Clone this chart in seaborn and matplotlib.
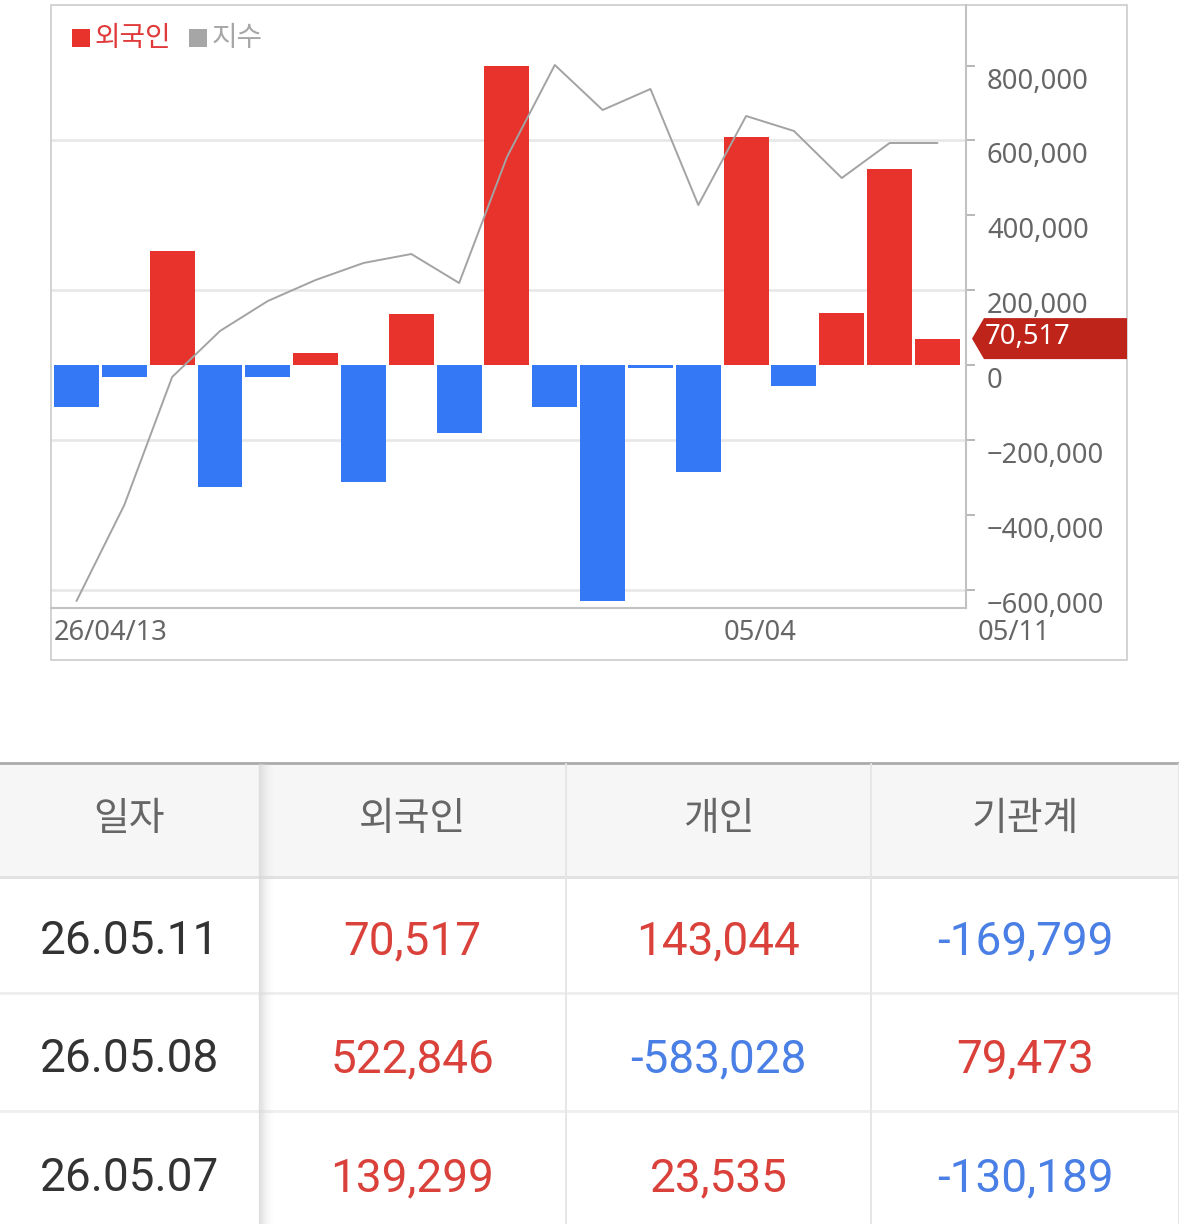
import numpy as np
import pandas as pd
import matplotlib
matplotlib.use("Agg")
import matplotlib.pyplot as plt
import seaborn as sns
from matplotlib.patches import Rectangle, Polygon
from matplotlib.transforms import blended_transform_factory

# ---------------- data ----------------
dates = ["04/13", "04/14", "04/15", "04/16", "04/17", "04/20", "04/21", "04/22", "04/23", "04/24",
         "04/27", "04/28", "04/29", "04/30", "05/04", "05/06", "05/07", "05/08", "05/11"]
foreign = [-111000, -31000, 304000, -327000, -32000, 32000, -312000, 136000, -183000, 800000,
           -111000, -631000, -7000, -287000, 608000, -56000, 139299, 522846, 70517]
index_vals = [3000, 3096, 3224, 3270, 3300, 3321, 3338, 3347, 3318, 3444,
              3536, 3491, 3512, 3396, 3485, 3470, 3423, 3458, 3458]
ytick_vals = [-600000, -400000, -200000, 0, 200000, 400000, 600000, 800000]
grid_vals = [-600000, -200000, 200000, 600000]
xlabel_text = ["26/04/13", "05/04", "05/11"]
xlabel_pos = [-0.47, 13.53, 18.85]
legend_labels = ["외국인", "지수"]

table_header = ["일자", "외국인", "개인", "기관계"]
table_dates = ["26.05.11", "26.05.08", "26.05.07"]
table_foreign = [70517, 522846, 139299]
table_individual = [143044, -583028, 23535]
table_institution = [-169799, 79473, -130189]

# ---------------- style ----------------
W, H = 1179, 1224
RED = "#e8332c"
BLUE = "#3478f6"
GRAY_LINE = "#a3a3a3"
TXT = "#666666"
T_RED = "#d9413a"
T_BLUE = "#4a7fe6"

sns.set_style("white")
plt.rcParams["font.family"] = ["Noto Sans", "Noto Sans CJK KR", "DejaVu Sans"]

fig = plt.figure(figsize=(W / 100, H / 100), dpi=100)
fig.patch.set_facecolor("white")

# main axes (pixel placement)
ax_l, ax_r, ax_t, ax_b = 51, 966, 5, 607.5
ax = fig.add_axes([ax_l / W, 1 - ax_b / H, (ax_r - ax_l) / W, (ax_b - ax_t) / H])

df = pd.DataFrame({"date": dates, "foreign": foreign, "index": index_vals})
df["sign"] = np.where(df["foreign"] >= 0, "pos", "neg")
df["pos"] = np.arange(len(df))

sns.barplot(data=df, x="date", y="foreign", hue="sign", palette={"pos": RED, "neg": BLUE},
            dodge=False, width=0.94, errorbar=None, legend=False, linewidth=0, saturation=1,
            ax=ax, zorder=2)

for g in grid_vals:
    ax.axhline(g, color="#e7e7e7", lw=1.9, zorder=0.5)

# index line on twin axis
ax2 = ax.twinx()
sns.lineplot(data=df, x="pos", y="index", ax=ax2, color=GRAY_LINE, lw=1.4, zorder=3)
ax2.set_ylim(2993.5, 3596)
ax2.set_xlim(-0.533, 18.597)
ax2.set_yticks([])
ax2.set_xlabel("")
ax2.set_ylabel("")
ax2.tick_params(left=False, right=False, labelleft=False, labelright=False)
for s in ax2.spines.values():
    s.set_visible(False)

ax.set_xlim(-0.533, 18.597)
ax.set_ylim(-647900, 961800)
ax.set_xlabel("")
ax.set_ylabel("")
ax.set_xticks([])
ax.set_yticks(ytick_vals)
ax.yaxis.tick_right()
ax.tick_params(axis="y", which="both", right=True, left=False, labelright=False, labelleft=False,
               length=6.5, width=1.4, color="#b8b8b8", direction="out")
for s in ["top", "left"]:
    ax.spines[s].set_visible(False)
for s in ["right", "bottom"]:
    ax.spines[s].set_color("#c2c2c2")
    ax.spines[s].set_linewidth(1.5)

ytrans = blended_transform_factory(ax.transAxes, ax.transData)
for v in ytick_vals:
    lab = f"{v:,}".replace("-", "\u2212")
    ax.annotate(lab, xy=(1, v), xycoords=ytrans, xytext=(21, -16), textcoords="offset pixels",
                ha="left", va="center", fontsize=19.7, color=TXT, annotation_clip=False)

xtrans = blended_transform_factory(ax.transData, ax.transAxes)
for t, p in zip(xlabel_text, xlabel_pos):
    ax.text(p, -26 / (ax_b - ax_t), t, transform=xtrans, ha="left", va="center", fontsize=19.7,
            color=TXT, clip_on=False)

# ---------------- overlay (pixel coords) ----------------
ov = fig.add_axes([0, 0, 1, 1], zorder=5)
ov.set_xlim(0, W)
ov.set_ylim(H, 0)
ov.axis("off")

# outer chart box
ov.add_patch(Rectangle((51, 5), 1127 - 51, 660 - 5, fill=False, ec="#c8c8c8", lw=1.1))

# legend
ov.add_patch(Rectangle((72, 29), 18, 18, color=RED, lw=0))
ov.text(95, 38, legend_labels[0], color="#e03a3a", fontsize=20, va="center", ha="left",
        family=["Noto Sans CJK KR"])
ov.add_patch(Rectangle((189, 29), 18, 18, color="#a6a6a6", lw=0))
ov.text(212, 38, legend_labels[1], color="#a6a6a6", fontsize=20, va="center", ha="left",
        family=["Noto Sans CJK KR"])

# last-value tag
fig.canvas.draw()
yc = H - ax.transData.transform((0, foreign[-1]))[1]
hh = 20.5
ov.add_patch(Polygon([(972, yc), (984, yc - hh), (1127, yc - hh), (1127, yc + hh), (984, yc + hh)],
                     closed=True, color="#be241a", lw=0))
ov.text(985, yc - 2, f"{foreign[-1]:,}", color="white", fontsize=19.7, va="center", ha="left")

# ---------------- table ----------------
col_edges = [0, 259, 566, 871, 1179]
row_edges = [763, 877, 993, 1111, 1229]
ov.add_patch(Rectangle((0, 763), W, 877 - 763, color="#f6f6f6", lw=0, zorder=1))
ov.plot([0, W], [763, 763], color="#ababab", lw=2.0, zorder=3)
ov.plot([0, W], [877, 877], color="#e2e2e2", lw=2.2, zorder=3)
for y in row_edges[2:4]:
    ov.plot([0, W], [y, y], color="#eeeeee", lw=2.0, zorder=3)
for x in col_edges[2:]:
    ov.plot([x, x], [764, H], color="#e6e6e6", lw=1.4, zorder=3)
# shadowed first divider
for k in range(14):
    ov.plot([259 + k, 259 + k], [764, H], color="#d8d8d8", lw=1.0, alpha=0.75 * (1 - k / 14) ** 2,
            zorder=3)

centers = [(col_edges[i] + col_edges[i + 1]) / 2 for i in range(4)]
for c, h in zip(centers, table_header):
    ov.text(c, 819, h, ha="center", va="center", fontsize=28, color=TXT,
            family=["Noto Sans CJK KR"], zorder=4)


def col_of(v):
    return T_RED if v >= 0 else T_BLUE


row_cy = [941, 1059, 1178]
for r in range(3):
    y = row_cy[r]
    ov.text(centers[0], y, table_dates[r], ha="center", va="center", fontsize=33, color="#333333",
            family=["Roboto"], zorder=4)
    for ci, arr in zip([1, 2, 3], [table_foreign, table_individual, table_institution]):
        v = arr[r]
        ov.text(centers[ci], y, f"{v:,}", ha="center", va="center", fontsize=33, color=col_of(v),
                family=["Roboto"], zorder=4)

fig.savefig("out.png", dpi=100)
